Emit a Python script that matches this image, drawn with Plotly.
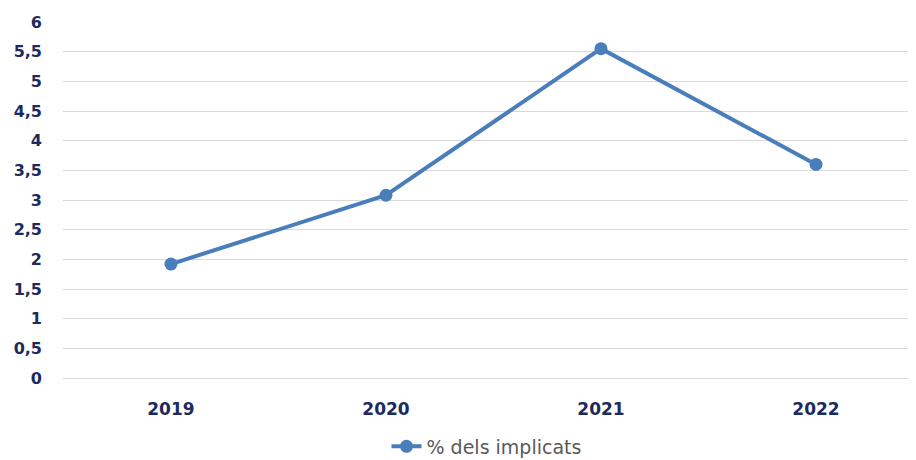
import plotly.graph_objects as go

years = ["2019", "2020", "2021", "2022"]
values = [1.92, 3.08, 5.55, 3.6]
series_name = "% dels implicats"
y_tickvals = [0, 0.5, 1, 1.5, 2, 2.5, 3, 3.5, 4, 4.5, 5, 5.5, 6]
y_ticktext = ["0", "0,5", "1", "1,5", "2", "2,5", "3", "3,5", "4", "4,5", "5", "5,5", "6"]

fig = go.Figure()
fig.add_trace(go.Scatter(
    x=years, y=values, name=series_name, mode="lines+markers",
    line=dict(color="#4A7EBB", width=4),
    marker=dict(color="#4A7EBB", size=13),
))

fig.update_layout(
    width=908, height=452,
    margin=dict(l=55, r=0, t=14, b=82),
    paper_bgcolor="white", plot_bgcolor="white",
    showlegend=True,
    legend=dict(orientation="h", xref="container", yref="container",
                x=0.527, xanchor="center", y=0.03, yanchor="middle",
                font=dict(family="DejaVu Sans", size=19, color="#595959")),
    xaxis=dict(type="category", range=[-0.502, 3.465], showgrid=False,
               showline=False, zeroline=False, ticks="",
               tickfont=dict(family="DejaVu Sans", size=17, color="#1C2A5E", weight="bold"),
               ticklabelstandoff=19),
    yaxis=dict(range=[0, 6], tickvals=y_tickvals, ticktext=y_ticktext,
               showgrid=True, gridcolor="#D9D9D9", gridwidth=1,
               zeroline=True, zerolinecolor="#D9D9D9", zerolinewidth=1,
               showline=False, ticks="",
               tickfont=dict(family="DejaVu Sans", size=16, color="#1C2A5E", weight="bold"),
               ticklabelstandoff=20),
)

fig.write_html("out.html")
